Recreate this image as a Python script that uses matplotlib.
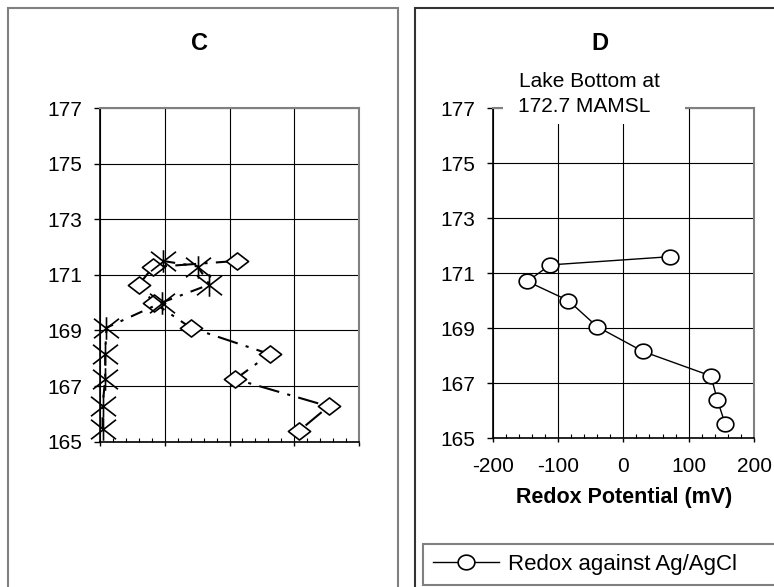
import matplotlib
matplotlib.use('Agg')
import matplotlib.pyplot as plt
from matplotlib.path import Path
from matplotlib.patches import Rectangle
from matplotlib.lines import Line2D
from matplotlib.ticker import MultipleLocator
import numpy as np

plt.rcParams['font.family'] = ['Liberation Sans', 'DejaVu Sans']
plt.rcParams['axes.unicode_minus'] = False

# ---------------- data ----------------
# Panel C (two unlabeled series, elevation in MAMSL)
c_star_x = [0.97, 1.51, 1.69, 0.95, 0.10, 0.08, 0.08, 0.04, 0.04]
c_star_y = [171.5, 171.3, 170.65, 170.0, 169.1, 168.15, 167.25, 166.3, 165.45]
c_diam_x = [2.11, 0.82, 0.60, 0.83, 1.40, 2.62, 2.09, 3.53, 3.08]
c_diam_y = [171.5, 171.28, 170.65, 170.0, 169.1, 168.15, 167.25, 166.27, 165.4]
c_x_ticks = [0, 1, 2, 3, 4]

# Panel D: redox potential (mV) vs elevation
d_redox_x = [72, -112, -147, -84, -40, 30, 134, 144, 156]
d_redox_y = [171.6, 171.3, 170.7, 170.0, 169.05, 168.15, 167.26, 166.38, 165.5]
d_x_ticks = [-200, -100, 0, 100, 200]

y_ticks = [165, 167, 169, 171, 173, 175, 177]
panel_titles = ['C', 'D']
d_xlabel = 'Redox Potential (mV)'
legend_label = 'Redox against Ag/AgCl'
note_lines = ['Lake Bottom at', '172.7 MAMSL']

# ---------------- markers ----------------
star_marker = Path([(-1, -0.78), (1, 0.78), (-1, 0.78), (1, -0.78), (0, -0.9), (0, 0.9)],
                   [Path.MOVETO, Path.LINETO, Path.MOVETO, Path.LINETO, Path.MOVETO, Path.LINETO])
diamond_marker = Path([(-1, 0), (0, 0.77), (1, 0), (0, -0.77), (-1, 0)],
                      [Path.MOVETO, Path.LINETO, Path.LINETO, Path.LINETO, Path.CLOSEPOLY])
t = np.linspace(0, 2 * np.pi, 64)
ellipse_marker = Path(np.column_stack([np.cos(t), 0.88 * np.sin(t)]), closed=True)

W, H = 774, 587
fig = plt.figure(figsize=(W / 100, H / 100), dpi=100)


def fx(px):
    return px / W


def fy(py):
    return 1 - py / H


def style_axes(ax):
    ax.set_ylim(165, 177)
    ax.set_yticks(y_ticks)
    ax.set_axisbelow(True)
    ax.grid(True, which='major', color='black', linewidth=0.8)
    for s in ['top', 'right']:
        ax.spines[s].set_color('#808080')
        ax.spines[s].set_linewidth(1.5)
    for s in ['left', 'bottom']:
        ax.spines[s].set_color('black')
        ax.spines[s].set_linewidth(1.2)
    ax.tick_params(axis='y', which='major', direction='out', length=4.5, width=1,
                   pad=8, labelsize=15)
    ax.tick_params(axis='x', which='major', direction='out', length=3, width=1,
                   pad=11, labelsize=15)
    ax.tick_params(axis='x', which='minor', direction='in', length=3, width=0.8)


# ---------------- panel C ----------------
axC = fig.add_axes([fx(100), fy(441.7), fx(359) - fx(100), fy(108) - fy(441.7)])
style_axes(axC)
axC.set_xlim(c_x_ticks[0], c_x_ticks[-1])
axC.set_xticks(c_x_ticks)
axC.xaxis.set_minor_locator(MultipleLocator(0.2))
axC.tick_params(axis='x', labelbottom=False)

axC.plot(c_diam_x, c_diam_y, color='black', linewidth=1.5, dashes=(10, 4, 1.5, 4),
         marker=diamond_marker, markersize=16, markerfacecolor='white',
         markeredgecolor='black', markeredgewidth=1.2, clip_on=False)
axC.plot(c_star_x, c_star_y, color='black', linewidth=1.5, dashes=(6, 4, 1.5, 4),
         marker=star_marker, markersize=18, markerfacecolor='none',
         markeredgecolor='black', markeredgewidth=1.2, clip_on=False)

# ---------------- panel D ----------------
axD = fig.add_axes([fx(492.7), fy(438), fx(754) - fx(492.7), fy(108.3) - fy(438)])
style_axes(axD)
axD.set_xlim(d_x_ticks[0], d_x_ticks[-1])
axD.set_xticks(d_x_ticks)
axD.xaxis.set_minor_locator(MultipleLocator(20))
axD.plot(d_redox_x, d_redox_y, color='black', linewidth=1.0,
         marker=ellipse_marker, markersize=12, markerfacecolor='white',
         markeredgecolor='black', markeredgewidth=1.2, clip_on=False)
axD.set_xlabel(d_xlabel, fontsize=15.5, fontweight='bold')
axD.xaxis.label.set_va('center')
axD.xaxis.set_label_coords((624.5 - 492.7) / (754 - 492.7), (438 - 497) / (438 - 108.3))

# white box behind the note in panel D
fig.patches.append(Rectangle((fx(503), fy(124)), fx(685) - fx(503), fy(60) - fy(124),
                             transform=fig.transFigure, facecolor='white',
                             edgecolor='none', zorder=2))
fig.text(fx(589.5), fy(87.5), note_lines[0], ha='center', va='baseline', fontsize=15, zorder=3)
fig.text(fx(584), fy(112), note_lines[1], ha='center', va='baseline', fontsize=15, zorder=3)

# titles
fig.text(fx(200), fy(43), panel_titles[0], ha='center', va='center',
         fontsize=17, fontweight='bold')
fig.text(fx(600), fy(43), panel_titles[1], ha='center', va='center',
         fontsize=17, fontweight='bold')

# panel borders
fig.patches.append(Rectangle((fx(8), -0.05), fx(397.7) - fx(8), fy(7.5) + 0.05,
                             transform=fig.transFigure, facecolor='none',
                             edgecolor='#808080', linewidth=1.5, zorder=1))
fig.patches.append(Rectangle((fx(415), -0.05), 0.6, fy(8) + 0.05,
                             transform=fig.transFigure, facecolor='none',
                             edgecolor='#333333', linewidth=1.5, zorder=1))

# legend
handle = Line2D([], [], color='black', linewidth=1.0, marker=ellipse_marker,
                markersize=12, markerfacecolor='white', markeredgecolor='black',
                markeredgewidth=1.2)
leg = fig.legend([handle], [legend_label], loc='upper left',
                 bbox_to_anchor=(fx(422.7), fy(583), 0.5, fy(544) - fy(583)),
                 bbox_transform=fig.transFigure, mode='expand',
                 frameon=True, fancybox=False, edgecolor='#808080', framealpha=1,
                 borderaxespad=0, fontsize=16, handlelength=3.0,
                 handletextpad=0.4, borderpad=0.45)
leg.get_frame().set_linewidth(1.5)

fig.savefig('out.png', dpi=100)
